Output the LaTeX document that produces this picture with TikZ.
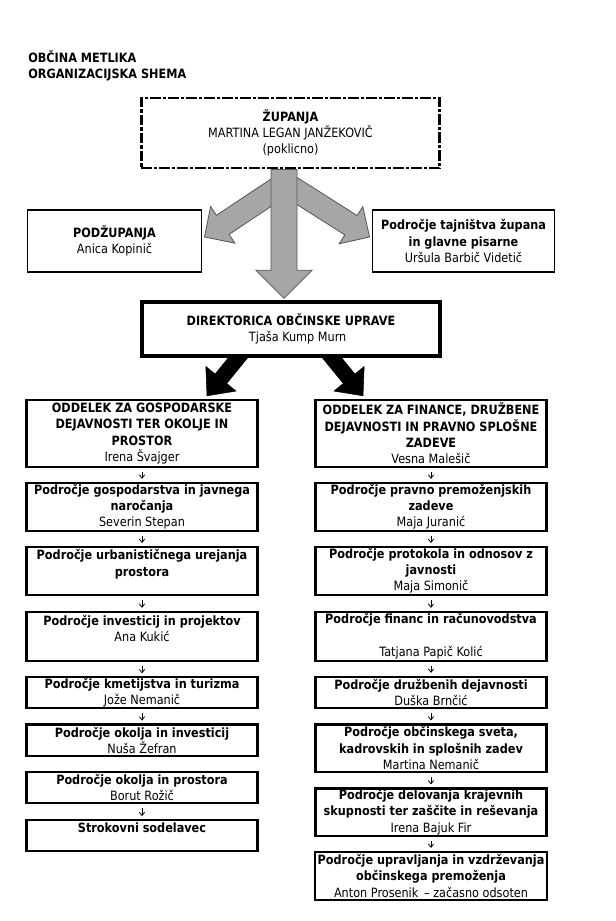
\documentclass[tikz,border=0pt]{standalone}
\usepackage{fontspec}
\setmainfont{DejaVu Sans}[FakeStretch=0.88]
\usepackage{tikz}
\usetikzlibrary{
    arrows.meta,
    calc,
    backgrounds
}
\newcommand{\orgfont}{\fontsize{9.6pt}{12.2pt}\selectfont}
\tikzset{
  unit/.style     = {draw, fill=white, align=center, inner xsep=2pt,
                     inner ysep=0.5pt, font=\orgfont},
  colbox/.style   = {unit, line width=1.8pt, minimum width=173pt},
  arr/.style      = {-{Straight Barb[length=2.5pt,width=4pt]}, line width=0.6pt,
                     shorten <=3pt, shorten >=2pt},
  fatarrow/.style n args = {3}{to path={
      ($(\tikztostart)!#1!90:(\tikztotarget)$)
      -- ($($(\tikztotarget)!#3!(\tikztostart)$)!#1!-90:(\tikztostart)$)
      -- ($($(\tikztotarget)!#3!(\tikztostart)$)!#2!-90:(\tikztostart)$)
      -- (\tikztotarget)
      -- ($($(\tikztotarget)!#3!(\tikztostart)$)!#2!90:(\tikztostart)$)
      -- ($($(\tikztotarget)!#3!(\tikztostart)$)!#1!90:(\tikztostart)$)
      -- ($(\tikztostart)!#1!-90:(\tikztotarget)$)
      -- cycle}}
}
\definecolor{ArrowGray}{RGB}{166,166,166}
\definecolor{ArrowEdge}{RGB}{85,85,85}

\begin{document}
\begin{tikzpicture}[x=0.75pt, y=-0.75pt,
    mayor/.style={unit, line width=2.2pt,
      dash pattern=on 8pt off 1.5pt on 2.5pt off 1.5pt,
      minimum width=224pt, minimum height=52.5pt},
    side/.style={unit, line width=0.9pt, minimum height=46.5pt},
    head/.style={unit, line width=2.5pt, minimum width=223.5pt, minimum height=40.5pt},
    grayarr/.style={fill=ArrowGray, draw=ArrowEdge, line width=0.6pt},
    blackarr/.style={fill=black, draw=black, line width=0.4pt}
  ]
    \useasboundingbox (0,0) rectangle (615,921);

    \node[align=left, inner sep=0pt, font=\orgfont, anchor=west] (title) at (28,66)
      {\textbf{OBČINA METLIKA}\\\textbf{ORGANIZACIJSKA SHEMA}};

    \node[mayor] (zup) at (290.5,133) {\textbf{ŽUPANJA}\\MARTINA LEGAN JANŽEKOVIČ\\(poklicno)};
    \node[side, minimum width=131pt] (pod) at (114.5,241) {\textbf{PODŽUPANJA}\\Anica Kopinič};
    \node[side, minimum width=137pt] (taj) at (463.5,241)
      {\textbf{Področje tajništva župana}\\\textbf{in glavne pisarne}\\Uršula Barbič Videtič};
    \node[head] (dir) at (291,329) {\textbf{DIREKTORICA OBČINSKE UPRAVE}\\\hspace*{10pt}Tjaša Kump Murn};

    \node[colbox, minimum height=50.25pt] (odg) at (142,433.5)
      {\textbf{ODDELEK ZA GOSPODARSKE}\\\textbf{DEJAVNOSTI TER OKOLJE IN}\\\textbf{PROSTOR}\\Irena Švajger};
    \node[colbox, minimum height=36pt] (gos) at (142,506.7)
      {\textbf{Področje gospodarstva in javnega}\\\textbf{naročanja}\\Severin Stepan};
    \node[colbox, minimum height=36pt] (urb) at (142,570.9)
      {\textbf{Področje urbanističnega urejanja}\\\textbf{prostora}\\\mbox{}};
    \node[colbox, minimum height=36.75pt] (inv) at (142,636.2)
      {\textbf{Področje investicij in projektov}\\Ana Kukić\\\mbox{}};
    \node[colbox, minimum height=22.9pt] (kme) at (142,692.5)
      {\textbf{Področje kmetijstva in turizma}\\Jože Nemanič};
    \node[colbox, minimum height=23.6pt] (oki) at (142,740.2)
      {\textbf{Področje okolja in investicij}\\Nuša Žefran};
    \node[colbox, minimum height=23.6pt] (okp) at (142,787.5)
      {\textbf{Področje okolja in prostora}\\Borut Rožič};
    \node[colbox, minimum height=23.25pt] (str) at (142,835.5)
      {\textbf{Strokovni sodelavec}\\\mbox{}};

    \node[colbox, minimum height=50.25pt] (odf) at (431,433.5)
      {\textbf{ODDELEK ZA FINANCE, DRUŽBENE}\\\textbf{DEJAVNOSTI IN PRAVNO SPLOŠNE}\\\textbf{ZADEVE}\\Vesna Malešič};
    \node[colbox, minimum height=36pt] (pra) at (431,506.7)
      {\textbf{Področje pravno premoženjskih}\\\textbf{zadeve}\\Maja Juranić};
    \node[colbox, minimum height=36pt] (pro) at (431,570.9)
      {\textbf{Področje protokola in odnosov z}\\\textbf{javnosti}\\Maja Simonič};
    \node[colbox, minimum height=36.75pt] (fin) at (431,636.2)
      {\textbf{Področje financ in računovodstva}\\\mbox{}\\Tatjana Papič Kolić};
    \node[colbox, minimum height=23.25pt] (dru) at (431,692.2)
      {\textbf{Področje družbenih dejavnosti}\\Duška Brnčić};
    \node[colbox, minimum height=35.8pt] (obc) at (431,748.2)
      {\textbf{Področje občinskega sveta,}\\\textbf{kadrovskih in splošnih zadev}\\Martina Nemanič};
    \node[colbox, minimum height=35.8pt] (del) at (431,812.2)
      {\textbf{Področje delovanja krajevnih}\\\textbf{skupnosti ter zaščite in reševanja}\\Irena Bajuk Fir};
    \node[colbox, minimum height=36.2pt] (upr) at (431,875.9)
      {\textbf{Področje upravljanja in vzdrževanja}\\\textbf{občinskega premoženja}\\Anton Prosenik \,-- začasno odsoten};

    \begin{scope}[on background layer]
      \coordinate (gl0) at ($(zup.south)+(-2.5,12)$);
      \coordinate (glt) at ($(pod.east)+(2,-4)$);
      \coordinate (gr0) at ($(zup.south)+(-8.5,12)$);
      \coordinate (grt) at ($(taj.west)+(-2,-4)$);
      \coordinate (gc0) at ($(zup.south)+(-6.5,0)$);
      \coordinate (gct) at ($(dir.north)+(-7,-2)$);
      \draw[grayarr, fatarrow={8.6pt}{16.5pt}{16.5pt}] (gl0) to (glt);
      \draw[grayarr, fatarrow={8.6pt}{16.5pt}{16.5pt}] (gr0) to (grt);
      \draw[grayarr, fatarrow={9.75pt}{21pt}{21pt}] (gc0) to (gct);

      \coordinate (bl0) at ($(dir.south)+(-48,-6)$);
      \coordinate (blt) at ($(odg.north)+(65,-3)$);
      \coordinate (br0) at ($(dir.south)+(36,-6)$);
      \coordinate (brt) at ($(odf.north)+(-68,-3)$);
      \draw[blackarr, fatarrow={5.6pt}{14.6pt}{16.5pt}] (bl0) to (blt);
      \draw[blackarr, fatarrow={5.6pt}{14.6pt}{16.5pt}] (br0) to (brt);
    \end{scope}

    \draw[arr] (odg) -- (gos);
    \draw[arr] (gos) -- (urb);
    \draw[arr] (urb) -- (inv);
    \draw[arr] (inv) -- (kme);
    \draw[arr] (kme) -- (oki);
    \draw[arr] (okp) -- (str);

    \draw[arr] (odf) -- (pra);
    \draw[arr] (pra) -- (pro);
    \draw[arr] (pro) -- (fin);
    \draw[arr] (fin) -- (dru);
    \draw[arr] (dru) -- (obc);
    \draw[arr] (obc) -- (del);
    \draw[arr] (del) -- (upr);
  \end{tikzpicture}
\end{document}
